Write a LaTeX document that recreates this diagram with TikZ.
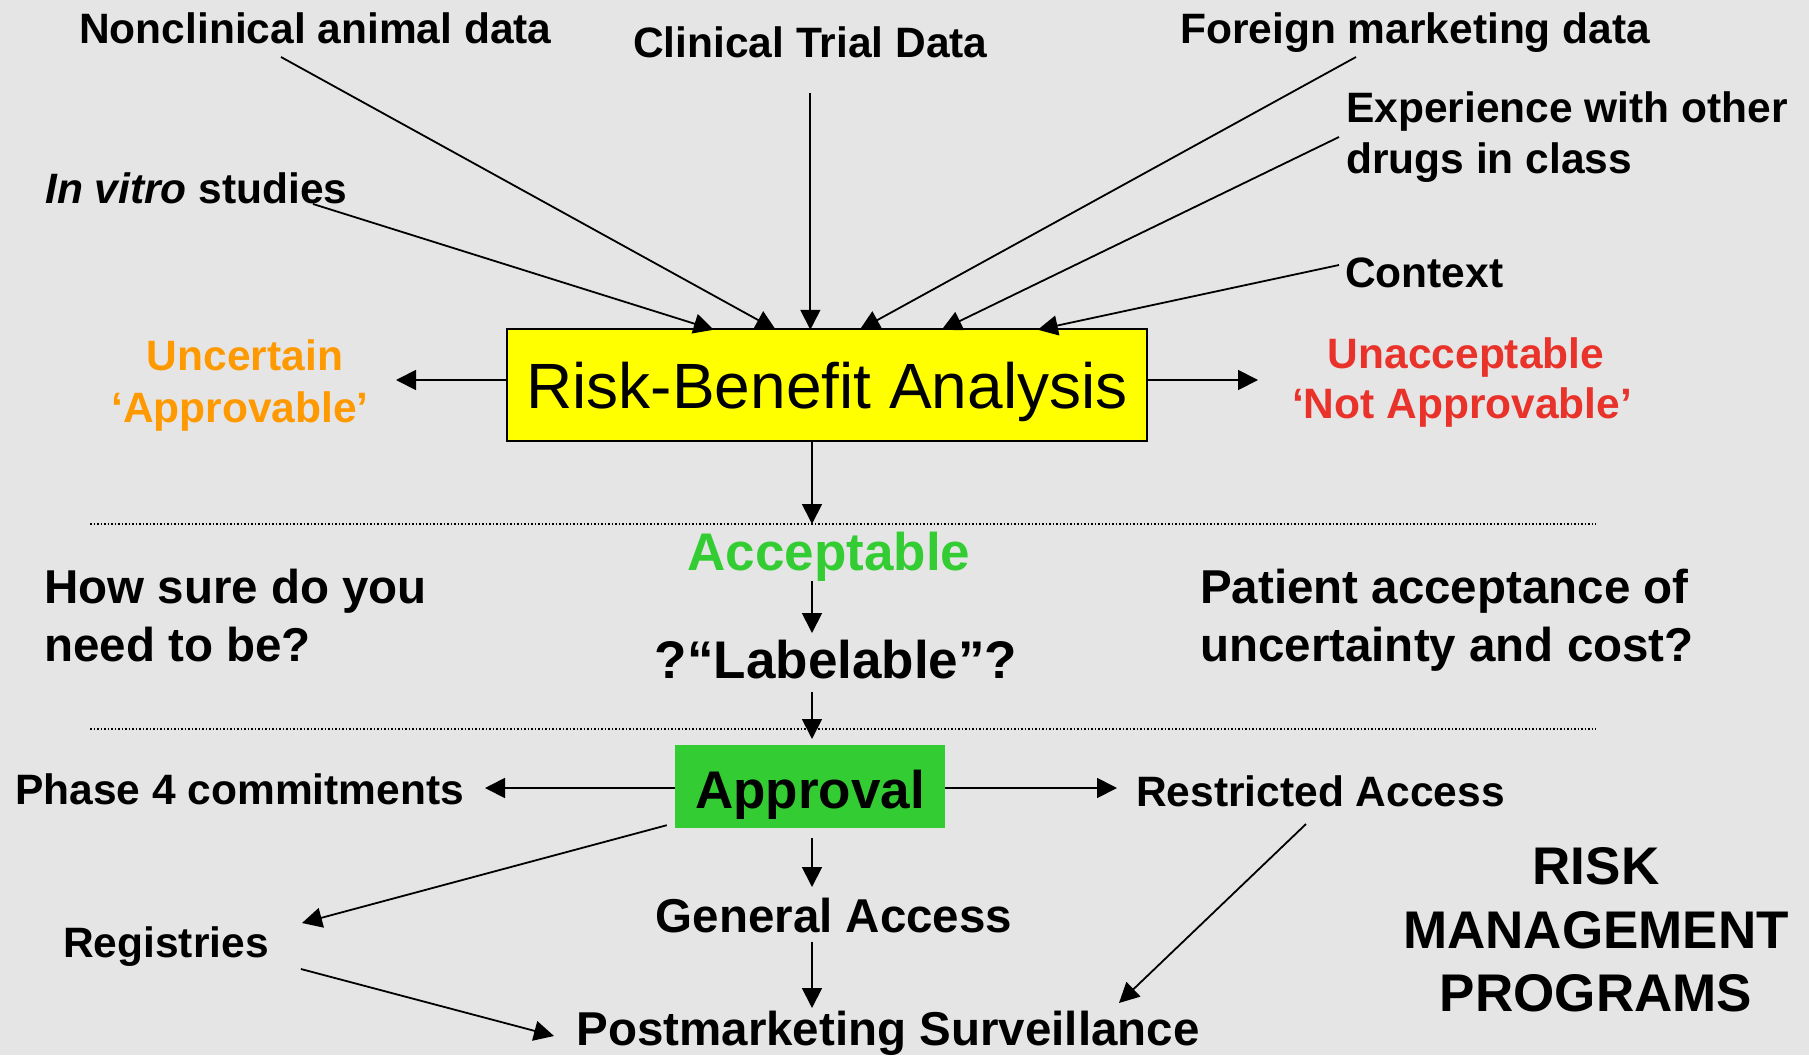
\documentclass[tikz,border=0pt]{standalone}
\usepackage{fontspec}
\setmainfont{Liberation Sans}
\usetikzlibrary{arrows.meta,calc}

\definecolor{paper}{RGB}{229,229,229}
\definecolor{rbyellow}{RGB}{255,255,0}
\definecolor{okgreen}{RGB}{51,204,51}
\definecolor{warnorange}{RGB}{255,153,0}
\definecolor{stopred}{RGB}{232,50,42}

\newcommand\sizept[1]{\fontsize{#1}{#1}\selectfont}

\begin{document}
\begin{tikzpicture}[x=1pt,y=-1pt,
  lbl/.style={inner sep=0pt, font=\bfseries\sizept{42.5}},
  lblm/.style={inner sep=0pt, font=\bfseries\sizept{47.5}},
  lblL/.style={inner sep=0pt, font=\bfseries\sizept{53}},
  conn/.style={line width=1.8pt, -{Triangle[length=20pt,width=20pt]}},
  divider/.style={line width=1.5pt, dash pattern=on 1.5pt off 2pt}]

% page
\fill[paper] (0,0) rectangle (1809,1055);
\useasboundingbox (0,0) rectangle (1809,1055);

% inputs to the analysis
\node[lbl, anchor=base west] (nonclin) at (79,43) {Nonclinical animal data};
\node[lbl, anchor=base west] (clin) at (633,57) {Clinical Trial Data};
\node[lbl, anchor=base west] (foreign) at (1180,43) {Foreign marketing data};
\node[lbl, anchor=base west] (exp1) at (1346,122) {Experience with other};
\node[lbl, anchor=base west] (exp2) at (1346,173) {drugs in class};
\node[lbl, anchor=base west] (invitro) at (45,203) {{\itshape In vitro} studies};
\node[lbl, anchor=base west] (context) at (1345,287) {Context};

% central analysis box
\node[draw=black, line width=2.5pt, fill=rbyellow, minimum width=640pt,
      minimum height=112pt, inner sep=0pt, font=\sizept{64},
      text height=46pt, text depth=0pt] (rba) at (827,385) {Risk-Benefit Analysis};

% outcomes beside the box
\node[lbl, text=warnorange, anchor=base] (unc1) at (245,370) {Uncertain};
\node[lbl, text=warnorange, anchor=base] (unc2) at (240,422) {‘Approvable’};
\node[lbl, text=stopred, anchor=base] (unacc1) at (1466,368) {Unacceptable};
\node[lbl, text=stopred, anchor=base] (unacc2) at (1462,418) {‘Not Approvable’};

% middle band
\node[lblL, text=okgreen, anchor=base] (acc) at (829,570) {Acceptable};
\node[lblL, anchor=base] (lab) at (836,678) {?“Labelable”?};
\node[lblm, anchor=base west] (sure1) at (44,603) {How sure do you};
\node[lblm, anchor=base west] (sure2) at (44,661) {need to be?};
\node[lblm, anchor=base west] (pat1) at (1200,603) {Patient acceptance of};
\node[lblm, anchor=base west] (pat2) at (1200,661) {uncertainty and cost?};

% approval and what follows
\node[fill=okgreen, minimum width=270pt, minimum height=83pt, inner sep=0pt,
      lblL, text height=43pt, text depth=0pt] (approval) at (810,786.5) {Approval};
\node[lbl, anchor=base west] (phase) at (15,804) {Phase 4 commitments};
\node[lbl, anchor=base west] (restr) at (1136,806) {Restricted Access};
\node[lblm, anchor=base] (gen) at (834,932) {General Access};
\node[lbl, anchor=base west] (reg) at (63,957) {Registries};
\node[lblm, anchor=base] (post) at (888,1045) {Postmarketing Surveillance};
\node[lblL, anchor=base] (rmp1) at (1596,884) {RISK};
\node[lblL, anchor=base] (rmp2) at (1596,948) {MANAGEMENT};
\node[lblL, anchor=base] (rmp3) at (1596,1011) {PROGRAMS};

% band dividers
\draw[divider] (90,524) -- (1596,524);
\draw[divider] (90,729) -- (1596,729);

% arrow ends that are not on a node
\coordinate (uncTip) at (396,380);
\coordinate (unaccTip) at (1258,380);
\coordinate (accTip) at (812,524);
\coordinate (labTip) at (812,633);
\coordinate (apprTip) at (812,739);
\coordinate (phTip) at (485,788);
\coordinate (restrTip) at (1117,788);
\coordinate (genTip) at (812,887);
\coordinate (postTip) at (812,1008);
\coordinate (regTip) at (302,923);
\coordinate (postInL) at (554,1036);
\coordinate (postInR) at (1119,1003);

% converging inputs
\draw[conn] ($(nonclin.base west)+(202,14)$) -- ($(rba.north west)+(270,2)$);
\draw[conn] ($(invitro.base west)+(268,1)$) -- ($(rba.north west)+(208,2)$);
\draw[conn] ($(clin.south)+(0,35)$) -- ($(clin.south |- rba.north)+(0,2)$);
\draw[conn] ($(foreign.base west)+(176,14)$) -- ($(rba.north west)+(354,2)$);
\draw[conn] ($(exp1.base west)+(-7,15)$) -- ($(rba.north west)+(436,2)$);
\draw[conn] ($(context.base west)+(-6,-22)$) -- ($(rba.north west)+(532,2)$);

% outcomes of the analysis
\draw[conn] (rba.west |- uncTip) -- (uncTip);
\draw[conn] (rba.east |- unaccTip) -- (unaccTip);
\draw[conn] (accTip |- rba.south) -- (accTip);
\draw[conn] (labTip |- acc.south) -- (labTip);
\draw[conn] ($(apprTip |- lab.south)+(0,13)$) -- (apprTip);

% after approval
\draw[conn] (approval.west |- phTip) -- (phTip);
\draw[conn] (approval.east |- restrTip) -- (restrTip);
\draw[conn] ($(genTip |- approval.south)+(0,10)$) -- (genTip);
\draw[conn] ($(postTip |- gen.south)+(0,9)$) -- (postTip);
\draw[conn] ($(approval.south west)+(-8,-3)$) -- (regTip);
\draw[conn] ($(reg.base east)+(32,12)$) -- (postInL);
\draw[conn] ($(restr.base west)+(170,18)$) -- (postInR);
\end{tikzpicture}
\end{document}
